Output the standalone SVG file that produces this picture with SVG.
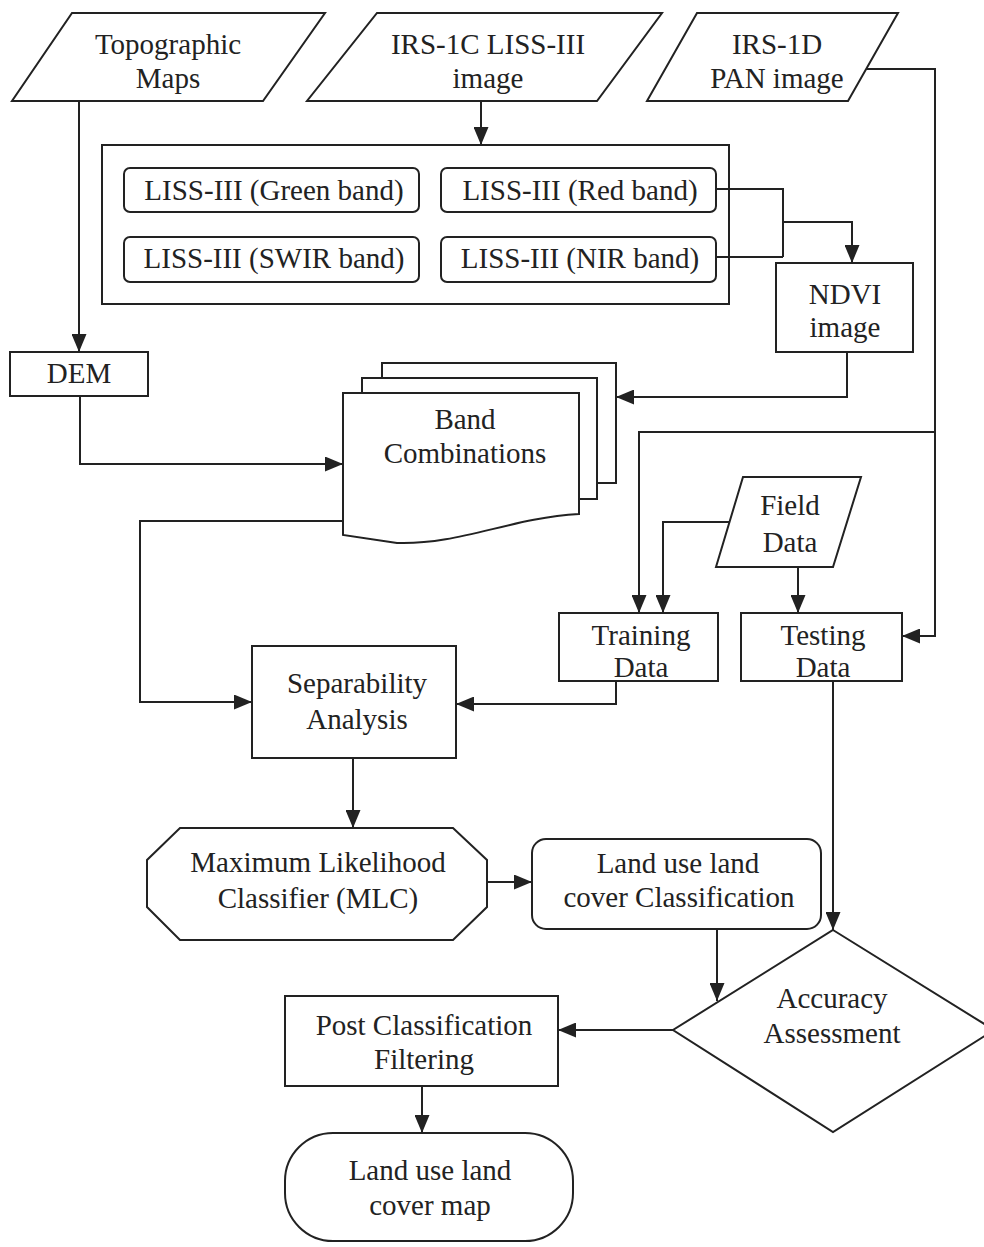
<svg xmlns="http://www.w3.org/2000/svg" width="984" height="1247" viewBox="0 0 984 1247">
  <defs>
    <marker id="ah" markerWidth="18" markerHeight="15" refX="18" refY="7.5" orient="auto" markerUnits="userSpaceOnUse">
      <path d="M0,0 L18,7.5 L0,15 z" fill="#222"/>
    </marker>
    <style>
      .shape { fill: #fff; stroke: #222; stroke-width: 2; }
      .line { fill: none; stroke: #222; stroke-width: 2; }
      .arrow { fill: none; stroke: #222; stroke-width: 2; marker-end: url(#ah); }
      text { font-family: "Liberation Serif", "Times New Roman", serif; font-size: 29px; fill: #222; text-anchor: middle; }
    </style>
  </defs>
  <rect width="984" height="1247" fill="#fff"/>

  <g id="topographic-maps">
    <polygon class="shape" points="72,13 325,13 263,101 12,101"/>
    <text x="168" y="54">Topographic</text>
    <text x="168" y="88">Maps</text>
  </g>

  <g id="liss-image">
    <polygon class="shape" points="377,13 662,13 597,101 307,101"/>
    <text x="488" y="54">IRS-1C LISS-III</text>
    <text x="488" y="88">image</text>
  </g>

  <g id="pan-image">
    <polygon class="shape" points="697,13 898,13 848,101 647,101"/>
    <text x="777" y="54">IRS-1D</text>
    <text x="777" y="88">PAN image</text>
  </g>

  <g id="liss-bands">
    <rect class="shape" x="102" y="145" width="627" height="159"/>
    <g id="green-band">
      <rect class="shape" x="124" y="168" width="295" height="44" rx="6"/>
      <text x="274" y="200">LISS-III (Green band)</text>
    </g>
    <g id="red-band">
      <rect class="shape" x="441" y="168" width="275" height="44" rx="6"/>
      <text x="580" y="200">LISS-III (Red band)</text>
    </g>
    <g id="swir-band">
      <rect class="shape" x="124" y="237" width="295" height="45" rx="6"/>
      <text x="274" y="268">LISS-III (SWIR band)</text>
    </g>
    <g id="nir-band">
      <rect class="shape" x="441" y="237" width="275" height="45" rx="6"/>
      <text x="580" y="268">LISS-III (NIR band)</text>
    </g>
  </g>

  <g id="ndvi">
    <rect class="shape" x="776" y="263" width="137" height="89"/>
    <text x="845" y="304">NDVI</text>
    <text x="845" y="337">image</text>
  </g>

  <g id="dem">
    <rect class="shape" x="10" y="352" width="138" height="44"/>
    <text x="79" y="383">DEM</text>
  </g>

  <g id="band-combinations">
    <rect class="shape" x="382" y="363" width="234" height="120"/>
    <rect class="shape" x="362" y="378" width="235" height="121"/>
    <path class="shape" d="M343 393 H579 V514 C 510 518, 460 545, 397 543 L343 535 Z"/>
    <text x="465" y="429">Band</text>
    <text x="465" y="463">Combinations</text>
  </g>

  <g id="field-data">
    <polygon class="shape" points="743,477 861,477 833,567 716,567"/>
    <text x="790" y="515">Field</text>
    <text x="790" y="552">Data</text>
  </g>

  <g id="training-data">
    <rect class="shape" x="559" y="613" width="159" height="68"/>
    <text x="641" y="645">Training</text>
    <text x="641" y="677">Data</text>
  </g>

  <g id="testing-data">
    <rect class="shape" x="741" y="613" width="161" height="68"/>
    <text x="823" y="645">Testing</text>
    <text x="823" y="677">Data</text>
  </g>

  <g id="separability">
    <rect class="shape" x="252" y="646" width="204" height="112"/>
    <text x="357" y="693">Separability</text>
    <text x="357" y="729">Analysis</text>
  </g>

  <g id="mlc">
    <polygon class="shape" points="180,828 453,828 487,860 487,907 453,940 180,940 147,907 147,860"/>
    <text x="318" y="872">Maximum Likelihood</text>
    <text x="318" y="908">Classifier (MLC)</text>
  </g>

  <g id="lulc-classification">
    <rect class="shape" x="532" y="839" width="289" height="90" rx="14"/>
    <text x="678" y="873">Land use land</text>
    <text x="679" y="907">cover Classification</text>
  </g>

  <g id="accuracy-assessment">
    <polygon class="shape" points="833,930 994,1030 833,1132 673,1030"/>
    <text x="832" y="1008">Accuracy</text>
    <text x="832" y="1043">Assessment</text>
  </g>

  <g id="post-classification">
    <rect class="shape" x="285" y="996" width="273" height="90"/>
    <text x="424" y="1035">Post Classification</text>
    <text x="424" y="1069">Filtering</text>
  </g>

  <g id="lulc-map">
    <rect class="shape" x="285" y="1133" width="288" height="108" rx="48" ry="48"/>
    <text x="430" y="1180">Land use land</text>
    <text x="430" y="1215">cover map</text>
  </g>

  <!-- connectors, drawn last so they sit on top of the node outlines -->
  <g id="connectors">
    <path class="arrow" d="M79 101 V352"/>
    <path class="arrow" d="M481 101 V145"/>
    <path class="line" d="M716 189 H783 V257 M716 257 H783"/>
    <path class="arrow" d="M783 222 H852 V263"/>
    <path class="arrow" d="M847 352 V397 H616"/>
    <path class="arrow" d="M80 396 V464 H343"/>
    <path class="arrow" d="M343 521 H140 V702 H252"/>
    <path class="arrow" d="M866 69 H935 V636 H902"/>
    <path class="arrow" d="M935 432 H639 V613"/>
    <path class="arrow" d="M729 522 H663 V613"/>
    <path class="arrow" d="M798 567 V613"/>
    <path class="arrow" d="M616 681 V704 H456"/>
    <path class="arrow" d="M833 681 V930"/>
    <path class="arrow" d="M353 758 V828"/>
    <path class="arrow" d="M487 882 H532"/>
    <path class="arrow" d="M717 929 V1001"/>
    <path class="arrow" d="M673 1030 H558"/>
    <path class="arrow" d="M422 1086 V1133"/>
  </g>
</svg>
